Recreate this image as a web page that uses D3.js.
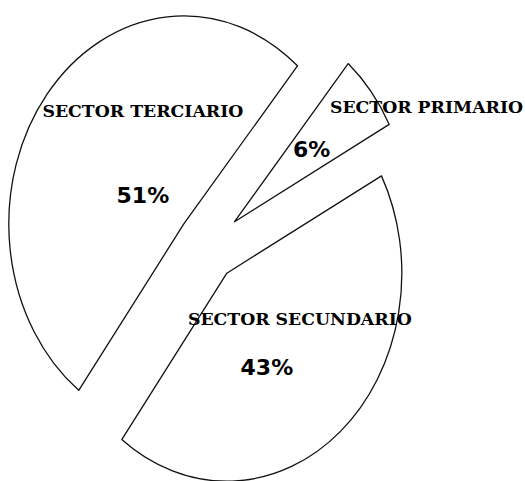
<!DOCTYPE html>
<html>
<head>
<meta charset="utf-8">
<script src="https://cdn.jsdelivr.net/npm/d3@7/dist/d3.min.js"></script>
<style>
  html, body { margin: 0; padding: 0; background: #fff; }
  svg { display: block; }
</style>
</head>
<body>
<svg id="chart" width="525" height="481"></svg>
<script>
// ---- data ----
const categories = ["SECTOR PRIMARIO", "SECTOR SECUNDARIO", "SECTOR TERCIARIO"];
const values = [6, 43, 51];
const valueLabels = ["6%", "43%", "51%"];

// ---- layout / style (not data) ----
const W = 525, H = 481;
const cx = 208, cy = 247;       // pie centre
const rx = 175, ry = 208;       // ellipse radii (scanned pie is stretched vertically)
const startDeg = 40.5;
const explode = [34, 29, 31];   // per-slice pull-out, in radius units
// label placement: [angle deg, radius fraction] relative to each slice's own centre
const namePos  = [[63.2, 1.229], [117.4, 0.47], [336.7, 0.591]];
const valuePos = [[51.6, 0.562], [153.0, 0.504], [300.7, 0.272]];

const svg = d3.select("#chart");
svg.append("rect").attr("width", W).attr("height", H).attr("fill", "#fff");

const pie = d3.pie().sort(null)
  .startAngle(startDeg * Math.PI / 180)
  .endAngle(startDeg * Math.PI / 180 + 2 * Math.PI);
const arcs = pie(values);
const arc = d3.arc().innerRadius(0).outerRadius(rx);
const k = ry / rx;

function sliceCenter(d, i) {
  const a = (d.startAngle + d.endAngle) / 2;
  return [cx + Math.sin(a) * explode[i], cy - Math.cos(a) * explode[i] * k];
}
function polar(c, deg, f) {
  const a = deg * Math.PI / 180;
  return [c[0] + Math.sin(a) * f * rx, c[1] - Math.cos(a) * f * ry];
}

const g = svg.append("g");
arcs.forEach((d, i) => {
  const c = sliceCenter(d, i);
  g.append("path")
    .attr("d", arc(d))
    .attr("transform", `translate(${c[0]},${c[1]}) scale(1,${k})`)
    .attr("fill", "#fff")
    .attr("stroke", "#111")
    .attr("stroke-width", 1.3)
    .attr("stroke-linejoin", "round")
    .attr("vector-effect", "non-scaling-stroke");
});

arcs.forEach((d, i) => {
  const c = sliceCenter(d, i);
  const p1 = polar(c, namePos[i][0], namePos[i][1]);
  svg.append("text")
    .attr("x", p1[0]).attr("y", p1[1]).attr("dy", "0.365em")
    .attr("text-anchor", "middle")
    .attr("font-family", "'DejaVu Serif', serif")
    .attr("font-weight", "bold")
    .attr("font-size", 17.3)
    .attr("fill", "#000")
    .text(categories[i]);
  const p2 = polar(c, valuePos[i][0], valuePos[i][1]);
  svg.append("text")
    .attr("x", p2[0]).attr("y", p2[1]).attr("dy", "0.365em")
    .attr("text-anchor", "middle")
    .attr("font-family", "'DejaVu Sans', sans-serif")
    .attr("font-weight", "bold")
    .attr("font-size", 22)
    .attr("fill", "#000")
    .text(valueLabels[i]);
});
</script>
</body>
</html>
